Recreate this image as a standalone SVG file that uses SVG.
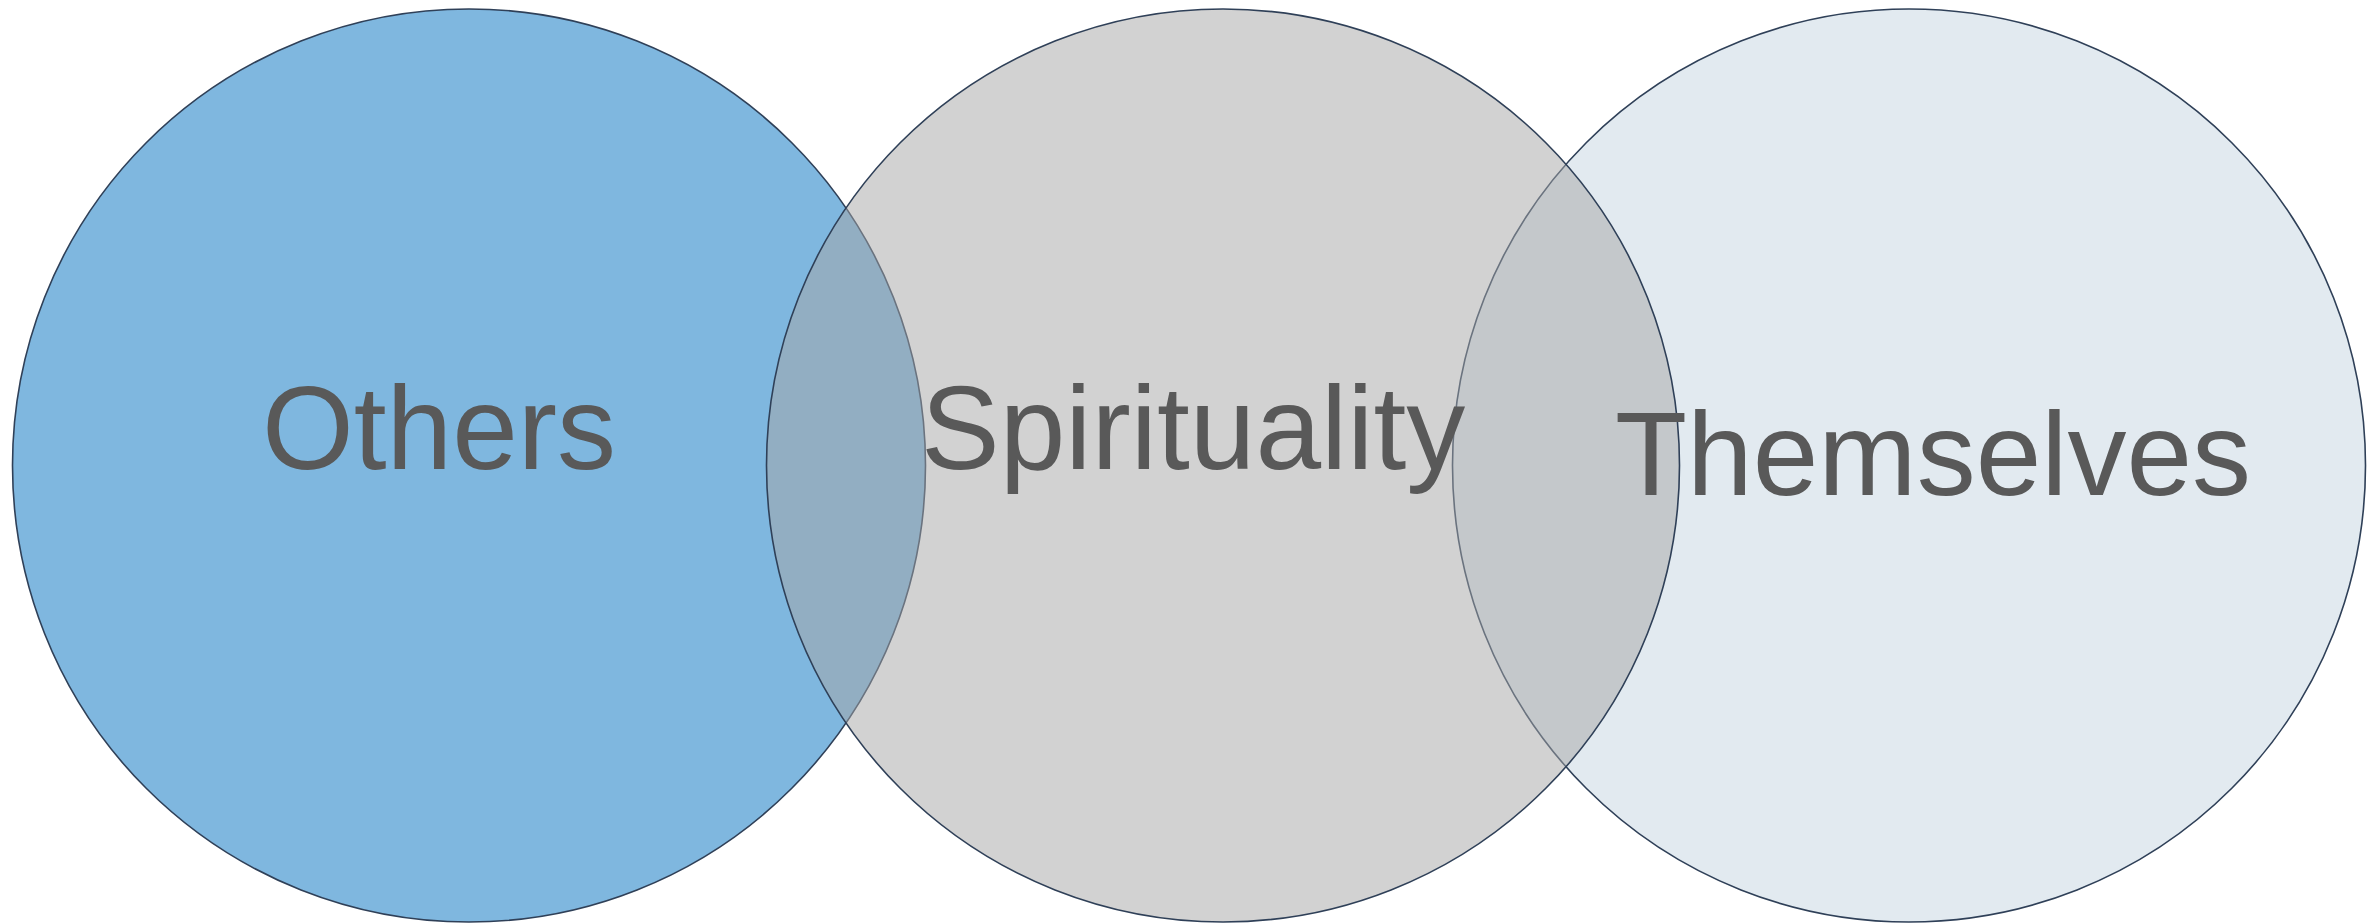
<svg xmlns="http://www.w3.org/2000/svg" width="2369" height="923" viewBox="0 0 2369 923">
  <style>
    .ring { stroke: #2F4058; stroke-width: 1.6; fill-opacity: 0.5; }
    .label { font-family: "Liberation Sans", Arial, sans-serif; font-size: 118px; fill: #595959; }
  </style>
  <rect width="2369" height="923" fill="#FFFFFF"/>
  <!-- Venn circles: the centre circle sits on top of both outer ones -->
  <g id="others">
    <circle class="ring" cx="469" cy="465.5" r="456.5" fill="#0070C0"/>
  </g>
  <g id="themselves">
    <circle class="ring" cx="1909" cy="465.5" r="456.5" fill="#C5D5E2"/>
  </g>
  <g id="spirituality">
    <circle class="ring" cx="1223" cy="465.5" r="456.5" fill="#A5A5A5"/>
  </g>
  <g id="labels">
    <text class="label" x="262" y="469">Others</text>
    <text class="label" x="921" y="469">Spirituality</text>
    <text class="label" x="1615" y="495">Themselves</text>
  </g>
  <g id="connectors"/>
</svg>
